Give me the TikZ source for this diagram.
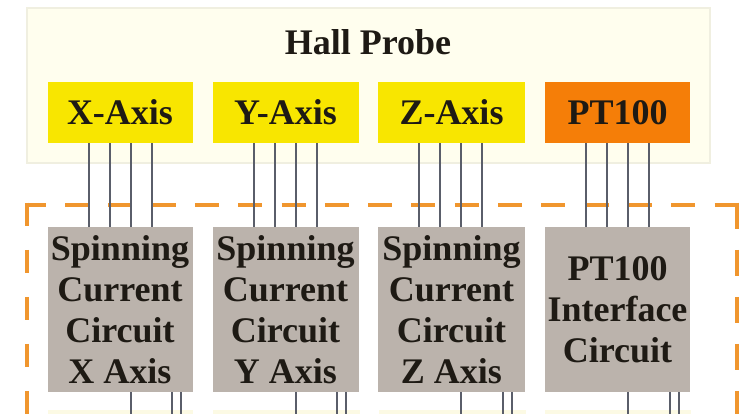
\documentclass[tikz,border=0pt]{standalone}
\usepackage{fontspec}
\setmainfont{Liberation Serif}
\definecolor{probebg}{HTML}{FFFEEE}
\definecolor{probeedge}{HTML}{F0EFE0}
\definecolor{axisyellow}{HTML}{F8E600}
\definecolor{ptorange}{HTML}{F57E08}
\definecolor{circgray}{HTML}{BBB3AC}
\definecolor{wiregray}{HTML}{5A5E6A}
\definecolor{dashorange}{HTML}{F0962E}
\definecolor{txt}{HTML}{1E1A14}
\definecolor{bandcream}{HTML}{FCFAE4}
\begin{document}
\begin{tikzpicture}[x=1pt,y=-1pt,
  lbl/.style={text=txt,font=\bfseries\fontsize{36}{41}\selectfont,inner sep=0pt,align=center},
  sensor/.style={lbl,fill=axisyellow,minimum height=61pt},
  circ/.style={lbl,fill=circgray,minimum height=165pt},
  wire/.style={draw=wiregray,line width=2pt},
  border/.style={draw=dashorange,line width=4.5pt}]
\clip (0,0) rectangle (744,414);
\fill[white] (0,0) rectangle (744,414);
% Hall probe container
\draw[fill=probebg,draw=probeedge,line width=1.2pt] (27,8) rectangle (710,163);
\node[lbl] (title) at (368,42) {Hall Probe};
% sensors
\node[sensor,minimum width=145pt] (X) at (120,112.5) {X-Axis};
\node[sensor,minimum width=146pt] (Y) at (285.5,112.5) {Y-Axis};
\node[sensor,minimum width=147pt] (Z) at (451.5,112.5) {Z-Axis};
\node[sensor,fill=ptorange,minimum width=145pt] (P) at (617.5,112.5) {PT100};
% faint boxes at the bottom edge
\fill[bandcream] (48,410) rectangle (193,420);
\fill[bandcream] (213,410) rectangle (360,420);
\fill[bandcream] (379,410) rectangle (526,420);
\fill[bandcream] (545,410) rectangle (691,420);
% dashed board outline
\draw[border,dash pattern=on 24pt off 19.3pt,dash phase=3pt] (24.75,205) -- (739.25,205);
\draw[border,dash pattern=on 23.5pt off 23.5pt] (27,202.75) -- (27,440);
\draw[border,dash pattern=on 26pt off 21pt] (737,202.75) -- (737,440);
% circuits
\node[circ,minimum width=145pt] (SX) at (120,309.5) {Spinning\\Current\\Circuit\\X Axis};
\node[circ,minimum width=146pt] (SY) at (285.5,309.5) {Spinning\\Current\\Circuit\\Y Axis};
\node[circ,minimum width=147pt] (SZ) at (451.5,309.5) {Spinning\\Current\\Circuit\\Z Axis};
\node[circ,minimum width=145pt] (SP) at (617.5,309.5) {PT100\\Interface\\Circuit};
% wires
\foreach \a/\b in {X/SX,Y/SY,Z/SZ,P/SP}{
  \foreach \d in {41.5,62.5,83.5,104.5}
    \draw[wire] ([xshift=\d pt]\a.south west) -- ([xshift=\d pt]\b.north west);
  \foreach \d in {83.5,125,134}
    \draw[wire] ([xshift=\d pt]\b.south west) -- ++(0,30);
}
\end{tikzpicture}
\end{document}
